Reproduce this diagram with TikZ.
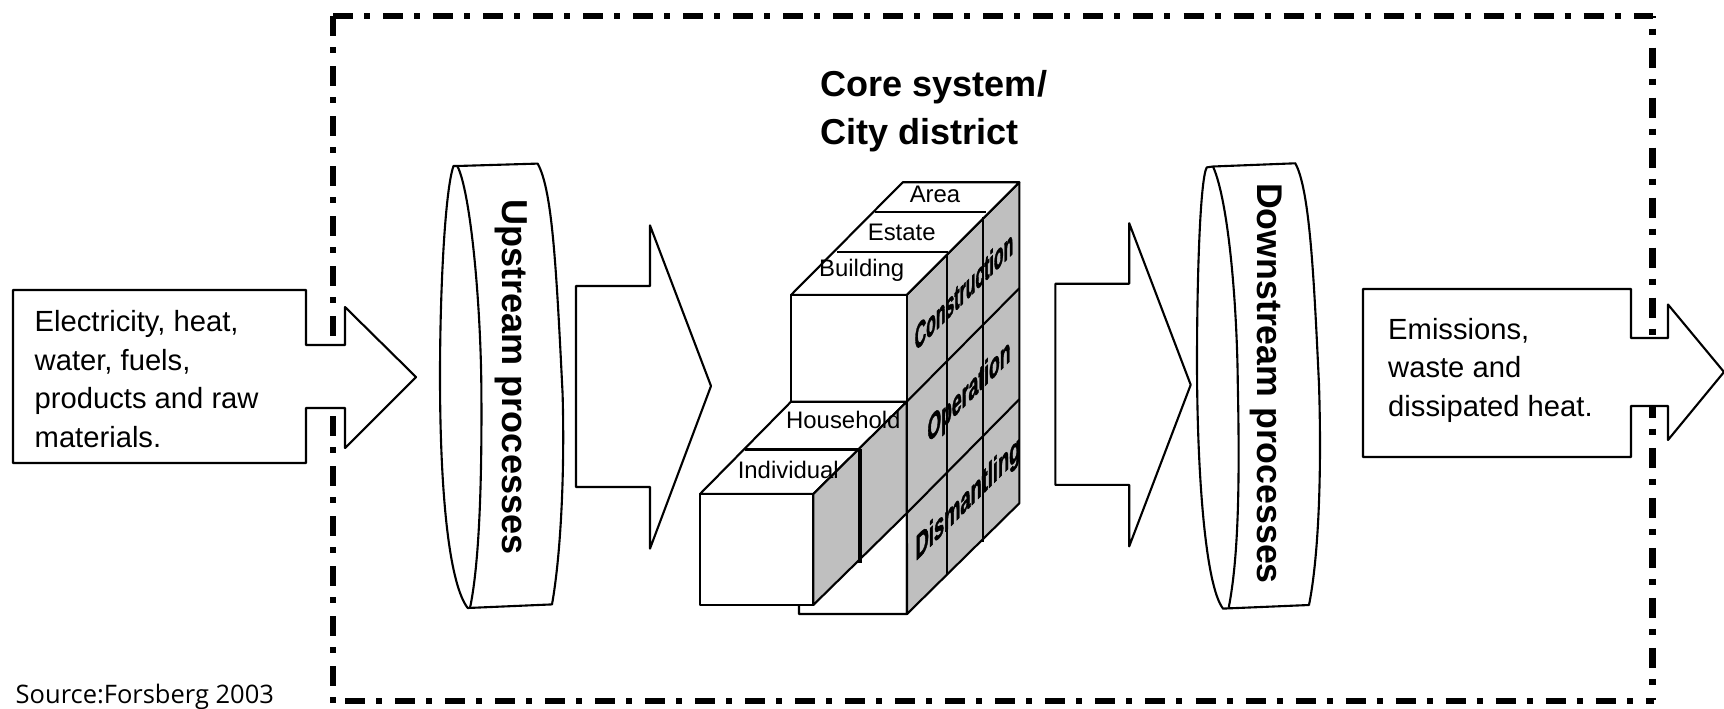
\documentclass[tikz,border=0pt]{standalone}
\usepackage{fontspec}
\setmainfont{Liberation Sans}
\newfontfamily\srcfont{Open Sans}
\newfontfamily\phasefont[BoldFeatures={FakeBold=2}]{Liberation Sans}
\definecolor{facegray}{gray}{0.75}
\tikzset{
  outline/.style={draw=black,line width=0.6pt,fill=white},
  sideface/.style={draw=black,line width=0.6pt,fill=facegray},
  framedash/.style={line width=1.85pt,dash pattern=on 0.2cm off 0.11cm on 0.06cm off 0.13cm},
  flowtext/.style={font=\fontsize{8.3}{10.95}\selectfont,align=left,anchor=west,inner sep=0pt},
  leveltext/.style={font=\fontsize{6.8}{8}\selectfont,inner sep=0pt},
  phasetext/.style={font=\phasefont\fontsize{10}{11}\selectfont\bfseries,inner sep=0pt,yslant=1},
}
\begin{document}
\begin{tikzpicture}[x=0.01cm,y=-0.01cm,join=round] % Core system with flows
        \useasboundingbox (0,0) rectangle (1724,709);
        % system boundary
        \draw[framedash] (333,16)--(1653,16);
        \draw[framedash] (333,16)--(333,703);
        \draw[framedash,dash phase=0.185cm] (1652.5,16)--(1652.5,700);
        \draw[framedash] (345,701)--(1654,701);
        % flow arrows
        \filldraw[outline](13,290)--(306,290)--(306,345)--(345,345)--(345,307)--(416,377)--(345,448)--(345,408)--(306,408)--(306,463)--(13,463)--cycle;
        \filldraw[outline](1363,289)--(1631,289)--(1631,338)--(1668,338)--(1668,304.5)--(1724,372)--(1668,440)--(1668,406)--(1631,406)--(1631,457)--(1363,457)--cycle;
        \filldraw[outline](576,286)--(650,286)--(650,225.4)--(711,386)--(650,548.6)--(650,487)--(576,487)--cycle;
        \filldraw[outline](1055.4,283.7)--(1129.2,283.7)--(1129.2,223.2)--(1190.7,384.8)--(1129.2,546.4)--(1129.2,484.9)--(1055.4,484.9)--cycle;
        % upstream disc
        \filldraw[outline](457.3,166)--(537.7,163.6) .. controls (552,190) and (556,260) .. (562.6,394) .. controls (565,480) and (560,560) .. (552,604.4)--(467.7,608) .. controls (450,585) and (440,500) .. (440,376) .. controls (440,290) and (445,190) .. (453.5,166)--cycle;
        \draw[line width=0.6pt](457.3,166) .. controls (470,190) and (481,300) .. (481.4,394) .. controls (482,500) and (478,570) .. (470,608);
        % downstream disc
        \filldraw[outline](1213,166.5)--(1295.3,163.3) .. controls (1310,190) and (1314,280) .. (1319,384.6) .. controls (1322,480) and (1318,560) .. (1309,605)--(1223,608.6) .. controls (1205,585) and (1197,470) .. (1197,362) .. controls (1197,280) and (1200,180) .. (1206.7,167.4)--cycle;
        \draw[line width=0.6pt](1213,166.5) .. controls (1228,200) and (1237,300) .. (1237.8,384.6) .. controls (1240,490) and (1238,560) .. (1228.7,607.7);
        % block, back to front
        \filldraw[outline](799,590)--(799,614)--(907,614)--(907,500)--cycle;
        \filldraw[sideface](906.7,295)--(1019.3,182.3)--(1019.3,503.3)--(907,614)--cycle;
        \filldraw[outline](791,295)--(906.7,295)--(1019.3,182.3)--(902.7,182.3)--cycle;
        \filldraw[outline](791,295)--(906.7,295)--(906.7,401.7)--(791,401.7)--cycle;
        \draw[line width=0.6pt](875,212.3)--(986,212.3) (836.7,251.7)--(948.3,251.7);
        \draw[line width=0.6pt](983.3,216.7)--(983.3,541.7) (946.7,254.3)--(946.7,575);
        \draw[line width=0.6pt](906.7,401.7)--(1019.3,288.3) (906.7,513.3)--(1019.3,399.3);
        \filldraw[outline](791,401.7)--(906.7,401.7)--(813.3,494)--(700,494)--cycle;
        \draw[line width=0.9pt](745,449.3)--(858.3,449.3);
        \filldraw[sideface](813.3,494)--(906.7,401.7)--(906.7,513.3)--(813.3,605)--cycle;
        \draw[line width=0.9pt](860,449.3)--(860,563);
        \filldraw[outline](700,494)--(813.3,494)--(813.3,605)--(700,605)--cycle;
        % labels
        \node[font=\fontsize{10.25}{13.6}\selectfont\bfseries,align=left,anchor=west,inner sep=0pt] (core) at (820,111) {Core system/\\City district};
        \node[font=\fontsize{10.25}{12}\selectfont\bfseries,rotate=-90,inner sep=0pt] (upstream) at (511,377) {Upstream processes};
        \node[font=\fontsize{10.15}{12}\selectfont\bfseries,rotate=-90,inner sep=0pt] (downstream) at (1266,383.5) {Downstream processes};
        \node[flowtext] (inflow) at (34,379) {Electricity, heat,\\water, fuels,\\products and raw\\materials.};
        \node[flowtext] (outflow) at (1387.5,370) {Emissions,\\waste and\\dissipated heat.};
        \node[leveltext] (area) at (935,194.3) {Area};
        \node[leveltext] (estate) at (901.7,232) {Estate};
        \node[leveltext] (building) at (861.7,270) {Building};
        \node[leveltext] (household) at (843.3,420) {Household};
        \node[leveltext] (individual) at (788.3,470) {Individual};
        \node[phasetext,xscale=.45] (construction) at (964,290) {Construction};
        \node[phasetext,xscale=.5] (operation) at (969,393) {Operation};
        \node[phasetext,xscale=.52] (dismantling) at (968,500) {Dismantling};
        \node[font=\srcfont\fontsize{7.25}{8}\selectfont,anchor=west,inner sep=0pt] (source) at (15,697) {Source:Forsberg 2003};
\end{tikzpicture}
\end{document}
